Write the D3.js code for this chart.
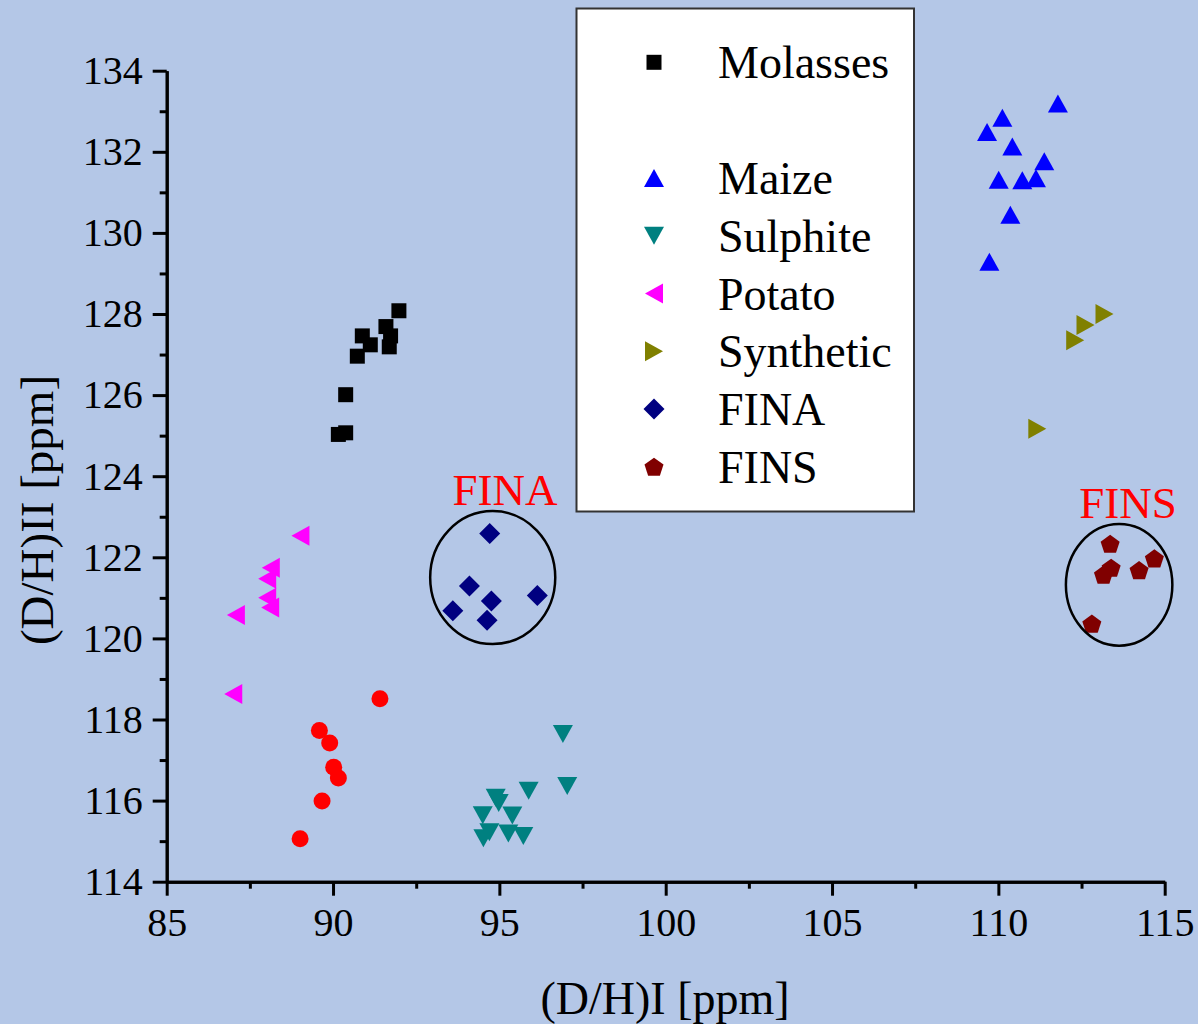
<!DOCTYPE html>
<html>
<head>
<meta charset="utf-8">
<script src="https://cdn.jsdelivr.net/npm/d3@7"></script>
<style>
  html, body { margin: 0; padding: 0; background: #B4C7E7; }
  svg { display: block; }
  svg text { font-family: "Liberation Serif", "Times New Roman", serif; }
</style>
</head>
<body>
<div id="chart"></div>
<script>
// D/H isotope ratios, site I vs site II
const molassesX = [91.98, 91.59, 91.73, 91.69, 90.88, 91.12, 90.73, 90.38, 90.38, 90.16];
const molassesY = [128.08, 127.69, 127.46, 127.19, 127.46, 127.24, 126.96, 126.01, 125.07, 125.03];

const unlabelledX = [91.41, 89.59, 89.90, 90.02, 90.16, 89.67, 89.01];
const unlabelledY = [118.51, 117.73, 117.42, 116.82, 116.56, 115.99, 115.06];

const maizeX = [111.79, 110.12, 109.66, 110.42, 111.38, 110.01, 110.72, 111.13, 110.36, 109.73];
const maizeY = [133.19, 132.84, 132.49, 132.13, 131.77, 131.31, 131.30, 131.35, 130.45, 129.29];

const sulphiteX = [96.91, 97.04, 95.88, 94.89, 94.98, 94.50, 95.39, 94.70, 94.52, 95.27, 95.72];
const sulphiteY = [117.64, 116.36, 116.24, 116.07, 115.94, 115.64, 115.63, 115.22, 115.07, 115.19, 115.13];

const potatoX = [89.02, 88.13, 88.02, 88.02, 88.11, 87.08, 87.00];
const potatoY = [122.53, 121.74, 121.47, 121.00, 120.76, 120.58, 118.63];

const syntheticX = [113.19, 112.62, 112.31, 111.17];
const syntheticY = [128.00, 127.73, 127.35, 125.17];

const finaX = [94.71, 94.10, 94.76, 96.14, 93.60, 94.63];
const finaY = [122.59, 121.29, 120.92, 121.06, 120.68, 120.45];

const finsX = [113.36, 114.69, 113.39, 113.16, 114.23, 112.81];
const finsY = [122.33, 121.97, 121.74, 121.57, 121.68, 120.36];

const xTicks = [85, 90, 95, 100, 105, 110, 115];
const yTicks = [114, 116, 118, 120, 122, 124, 126, 128, 130, 132, 134];

// annotation groups: label, label position, ellipse centre and radii (data units)
const groupLabels = ["FINA", "FINS"];
const groupLabelX = [95.17, 113.9];
const groupLabelY = [123.29, 122.97];
const groupCx = [94.8, 113.63];
const groupCy = [121.5, 121.32];
const groupRx = [1.88, 1.60];
const groupRy = [1.64, 1.50];

// -- marker shapes (size = nominal pixel extent) --
function polygonType(pts) {
    return {
        draw(context, size) {
            const s = size / 20;
            context.moveTo(pts[0][0] * s, pts[0][1] * s);
            for (let i = 1; i < pts.length; i++) context.lineTo(pts[i][0] * s, pts[i][1] * s);
            context.closePath();
        }
    };
}
const pentagonPts = d3.range(5).map(i => {
    const a = -Math.PI / 2 + i * 2 * Math.PI / 5;
    return [10 * Math.cos(a), 10 * Math.sin(a) + 0.8];
});
const shapes = {
    square: polygonType([[-7.5, -7.5], [7.5, -7.5], [7.5, 7.5], [-7.5, 7.5]]),
    circle: { draw(context, size) { const r = size / 20 * 8.5; context.moveTo(r, 0); context.arc(0, 0, r, 0, 2 * Math.PI); } },
    up: polygonType([[0, -9], [10, 9], [-10, 9]]),
    down: polygonType([[0, 9], [10, -9], [-10, -9]]),
    left: polygonType([[-9, 0], [9, -10], [9, 10]]),
    right: polygonType([[9, 0], [-9, -10], [-9, 10]]),
    diamond: polygonType([[0, -10.5], [10.5, 0], [0, 10.5], [-10.5, 0]]),
    pentagon: polygonType(pentagonPts)
};

const series = [
    { name: "Molasses", xs: molassesX, ys: molassesY, shape: "square", color: "#000000" },
    { name: "", xs: unlabelledX, ys: unlabelledY, shape: "circle", color: "#FF0000" },
    { name: "Maize", xs: maizeX, ys: maizeY, shape: "up", color: "#0000FF" },
    { name: "Sulphite", xs: sulphiteX, ys: sulphiteY, shape: "down", color: "#008080" },
    { name: "Potato", xs: potatoX, ys: potatoY, shape: "left", color: "#FF00FF" },
    { name: "Synthetic", xs: syntheticX, ys: syntheticY, shape: "right", color: "#808000" },
    { name: "FINA", xs: finaX, ys: finaY, shape: "diamond", color: "#000080" },
    { name: "FINS", xs: finsX, ys: finsY, shape: "pentagon", color: "#800000" }
];

const width = 1198;
const height = 1024;
const font = "Liberation Serif, Times New Roman, serif";

const svg = d3.select("#chart")
    .append("svg")
    .attr("width", width)
    .attr("height", height)
    .attr("font-family", font);

svg.append("rect")
    .attr("width", width)
    .attr("height", height)
    .attr("fill", "#B4C7E7");

const x = d3.scaleLinear().domain([85, 115]).range([166.7, 1164.7]);
const y = d3.scaleLinear().domain([114, 134]).range([881.7, 70.7]);

// -- Axes --
const xMinor = d3.range(87.5, 115, 5);
const yMinor = d3.range(115, 134, 2);

function styleAxis(g) {
    g.attr("font-family", font).attr("font-size", 40);
    g.select(".domain").attr("stroke", "#000").attr("stroke-width", 3);
    g.selectAll(".tick line").attr("stroke", "#000").attr("stroke-width", 3);
    g.selectAll(".tick text").attr("fill", "#000");
}

svg.append("g")
    .attr("transform", `translate(0,${y(114)})`)
    .call(d3.axisBottom(x).tickValues(xMinor).tickSize(7).tickSizeOuter(0).tickFormat(""))
    .call(styleAxis);

svg.append("g")
    .attr("transform", `translate(${x(85)},0)`)
    .call(d3.axisLeft(y).tickValues(yMinor).tickSize(7).tickSizeOuter(0).tickFormat(""))
    .call(styleAxis);

svg.append("g")
    .attr("transform", `translate(0,${y(114)})`)
    .call(d3.axisBottom(x).tickValues(xTicks).tickSize(14).tickSizeOuter(0).tickPadding(12).tickFormat(d3.format("d")))
    .call(styleAxis);

svg.append("g")
    .attr("transform", `translate(${x(85)},0)`)
    .call(d3.axisLeft(y).tickValues(yTicks).tickSize(14).tickSizeOuter(0).tickPadding(10).tickFormat(d3.format("d")))
    .call(styleAxis);

// axis titles
svg.append("text")
    .attr("x", 665)
    .attr("y", 1014)
    .attr("text-anchor", "middle")
    .attr("font-size", 46)
    .text("(D/H)I [ppm]");

svg.append("text")
    .attr("transform", "translate(53,510) rotate(-90)")
    .attr("text-anchor", "middle")
    .attr("font-size", 47)
    .text("(D/H)II [ppm]");

// -- Points --
const symbol = d3.symbol().size(20);
series.forEach(s => {
    svg.append("g")
        .selectAll("path")
        .data(s.xs.map((v, i) => [v, s.ys[i]]))
        .join("path")
        .attr("transform", d => `translate(${x(d[0])},${y(d[1])})`)
        .attr("d", symbol.type(shapes[s.shape])())
        .attr("fill", s.color);
});

// -- Group annotations --
groupLabels.forEach((lab, i) => {
    svg.append("ellipse")
        .attr("cx", x(groupCx[i]))
        .attr("cy", y(groupCy[i]))
        .attr("rx", x(groupCx[i] + groupRx[i]) - x(groupCx[i]))
        .attr("ry", y(groupCy[i]) - y(groupCy[i] + groupRy[i]))
        .attr("fill", "none")
        .attr("stroke", "#000")
        .attr("stroke-width", 2.5);
    svg.append("text")
        .attr("x", x(groupLabelX[i]))
        .attr("y", y(groupLabelY[i]))
        .attr("text-anchor", "middle")
        .attr("fill", "#FF0000")
        .attr("font-size", 45)
        .text(lab);
});

// -- Legend --
const legend = svg.append("g");
legend.append("rect")
    .attr("x", 576.5)
    .attr("y", 8.5)
    .attr("width", 337.5)
    .attr("height", 503)
    .attr("fill", "#FFFFFF")
    .attr("stroke", "#333")
    .attr("stroke-width", 2);

const rows = legend.selectAll("g.row")
    .data(series)
    .join("g")
    .attr("class", "row")
    .attr("transform", (d, i) => `translate(0,${62.3 + i * 57.8})`);

rows.filter(d => d.name !== "")
    .append("path")
    .attr("transform", "translate(654,0)")
    .attr("d", d => symbol.type(shapes[d.shape])())
    .attr("fill", d => d.color);

rows.append("text")
    .attr("x", 718)
    .attr("y", 16)
    .attr("font-size", 46)
    .attr("fill", "#000")
    .text(d => d.name);
</script>
</body>
</html>
